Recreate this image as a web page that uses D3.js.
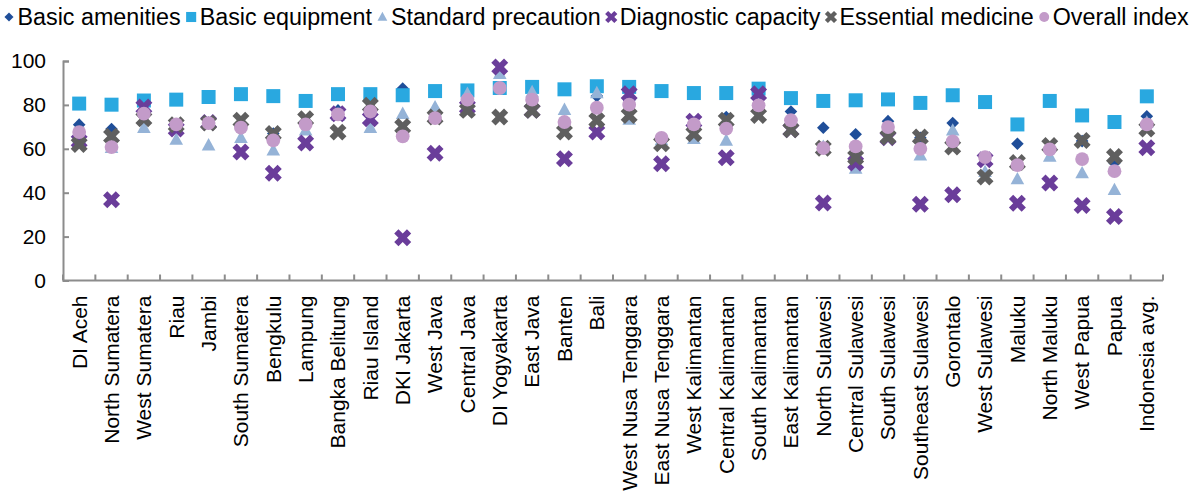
<!DOCTYPE html>
<html>
<head>
<meta charset="utf-8">
<script src="https://cdn.jsdelivr.net/npm/d3@7"></script>
<style>
  html, body { margin: 0; padding: 0; background: #fff; }
  svg { display: block; font-family: "Liberation Sans", Arial, sans-serif; }
</style>
</head>
<body>
<svg id="chart" width="1200" height="497"></svg>
<script>
const categories = ["DI Aceh","North Sumatera","West Sumatera","Riau","Jambi","South Sumatera","Bengkulu","Lampung","Bangka Belitung","Riau Island","DKI Jakarta","West Java","Central Java","DI Yogyakarta","East Java","Banten","Bali","West Nusa Tenggara","East Nusa Tenggara","West Kalimantan","Central Kalimantan","South Kalimantan","East Kalimantan","North Sulawesi","Central Sulawesi","South Sulawesi","Southeast Sulawesi","Gorontalo","West Sulawesi","Maluku","North Maluku","West Papua","Papua","Indonesia avg."];

const basicAmenities     = [71,69,77,71,72,70,67,72,77.5,77,87.5,75,82,88,82,72,84,82,64,72,74.5,80,77,69.6,66.6,72.6,65,71.7,56,62.3,60,63.5,53.5,74.8];
const basicEquipment     = [80.6,80.1,82,82.4,83.6,84.9,84,81.8,84.9,84.9,84.4,86.3,86.6,87.7,88.2,87.1,88.5,88.2,86.3,85.4,85.4,87.4,83.1,81.8,82.1,82.5,80.9,84.4,81.3,71.1,81.8,75.2,72.2,83.9];
const standardPrecaution = [65,60.5,69.6,64.2,61.6,65,59.3,68.4,75,69.6,76,79,85.1,94.2,85.9,77.8,85.4,73.3,64,64.6,63.8,82,72,61,51,69,57,68.4,49.5,46.2,56.5,48.9,41.3,72];
const diagnosticCapacity = [63.5,36.8,79,69,72,58.5,48.9,62.6,76,73.7,19.5,58,79,97.3,77.5,55.5,67.6,85.1,53.2,72.6,55.9,85.1,68.7,35.3,53.5,65,34.7,39.1,55,35.2,44.4,34.2,29.2,60.5];
const essentialMedicine  = [62,65.7,73.7,71,71.7,73,67,73.7,67.6,79.8,70.2,74.5,77.5,74.5,77.5,67.6,73,75.2,62.3,66.9,73,75.2,68.7,60.3,56.2,65.4,65.4,60.8,47.1,53.8,61.5,63.8,56.5,69];
const overallIndex       = [67.6,60.8,76,71.1,71.7,69.6,63.8,71.1,75.7,77,65.7,74,82.4,87.7,82.4,72.2,78.7,80.1,65,71.1,69.2,79.8,73,60.3,61.1,69.9,60,63.4,56.2,52.6,59.7,55.3,49.8,71.1];

const yTicks = [0,20,40,60,80,100];

const seriesNames = ["Basic amenities","Basic equipment","Standard precaution","Diagnostic capacity","Essential medicine","Overall index"];
const seriesValues = [basicAmenities, basicEquipment, standardPrecaution, diagnosticCapacity, essentialMedicine, overallIndex];
const seriesColors = ["#1f4e99","#29a8e0","#95b3d7","#6a3d9a","#5f5f5f","#c39bc9"];
const seriesShapes = ["diamond","square","triangle","x","x","circle"];

const svg = d3.select("#chart");
const margin = {left: 63, right: 37, top: 61, bottom: 216};
const W = 1200, H = 497;

const x = d3.scaleBand().domain(categories).range([margin.left, W - margin.right]).paddingInner(0).paddingOuter(0);
const y = d3.scaleLinear().domain([0,100]).range([H - margin.bottom - 0.5, margin.top]);

const axisColor = "#8c8c8c";

function shapePath(shape, s) {
  switch (shape) {
    case "diamond": { const h = 6.3*s; return `M0,${-h}L${h},0L0,${h}L${-h},0Z`; }
    case "square": { const h = 7*s; return `M${-h},${-h}H${h}V${h}H${-h}Z`; }
    case "triangle": { const w = 6.8*s, t = 7.2*s, b = 5.2*s; return `M0,${-t}L${w},${b}L${-w},${b}Z`; }
    case "circle": return d3.symbol(d3.symbolCircle, Math.PI*Math.pow(6.9*s,2))();
    case "x": return d3.symbol(d3.symbolCross, 180*s*s)();
  }
}

// Axes
const gx = svg.append("g").attr("transform", `translate(0,${y(0)})`);
gx.append("line").attr("x1", margin.left).attr("x2", W - margin.right).attr("y1",0).attr("y2",0)
  .attr("stroke", axisColor).attr("stroke-width", 2);
const bounds = categories.map(c => x(c)).concat([x(categories[categories.length-1]) + x.bandwidth()]);
gx.selectAll("line.tick").data(bounds).join("line").attr("class","tick")
  .attr("x1", d => d).attr("x2", d => d).attr("y1", 0).attr("y2", -6)
  .attr("stroke", axisColor).attr("stroke-width", 2);
gx.selectAll("text").data(categories).join("text")
  .attr("transform", d => `translate(${x(d) + x.bandwidth()/2},15) rotate(-90)`)
  .attr("text-anchor","end").attr("dy","0.35em")
  .attr("font-size", 21).attr("fill", "#000").text(d => d);

const yAxis = d3.axisLeft(y).tickValues(yTicks).tickSize(-6).tickPadding(17);
const gy = svg.append("g").attr("transform", `translate(${margin.left},0)`).call(yAxis);
gy.select(".domain").attr("stroke", axisColor).attr("stroke-width", 2);
gy.selectAll(".tick line").attr("stroke", axisColor).attr("stroke-width", 2);
gy.selectAll(".tick text").attr("font-size", 21).attr("fill", "#000").attr("font-family","Liberation Sans, Arial, sans-serif");

// Points
seriesValues.forEach((vals, si) => {
  const g = svg.append("g");
  const rot = seriesShapes[si] === "x" ? " rotate(45)" : "";
  g.selectAll("path").data(vals).join("path")
    .attr("transform", (d,i) => `translate(${x(categories[i]) + x.bandwidth()/2},${y(d)})${rot}`)
    .attr("d", shapePath(seriesShapes[si], 1))
    .attr("fill", seriesColors[si]);
});

// Legend: chained items, marker then text
const lg = svg.append("g").attr("transform", "translate(0,17)");
let cx = 9;
const markerGap = 8.5, itemGap = 10.5;
seriesNames.forEach((name, si) => {
  const rot = seriesShapes[si] === "x" ? " rotate(45)" : "";
  lg.append("path").attr("transform", `translate(${cx},0)${rot}`)
    .attr("d", shapePath(seriesShapes[si], 0.72)).attr("fill", seriesColors[si]);
  const t = lg.append("text").attr("x", cx + markerGap).attr("y", 0).attr("dy", "0.35em")
    .attr("font-size", 23.3).attr("fill", "#000").text(name);
  cx = cx + markerGap + t.node().getComputedTextLength() + itemGap;
});
</script>
</body>
</html>
